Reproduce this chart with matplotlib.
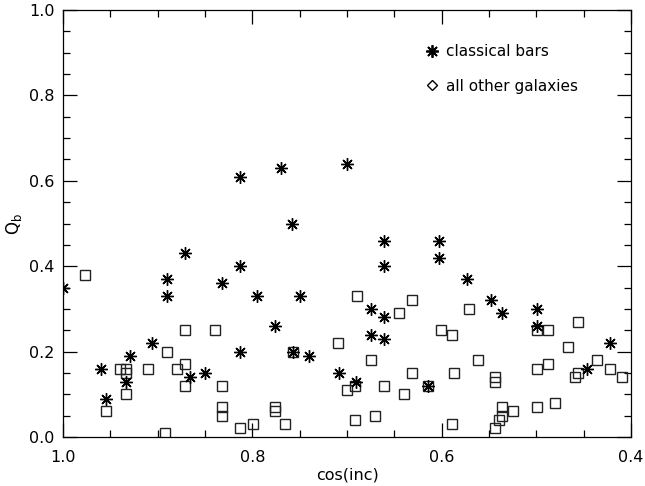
import matplotlib
matplotlib.use("Agg")
import matplotlib.pyplot as plt
from matplotlib.lines import Line2D
from matplotlib.ticker import MultipleLocator

plt.rcParams['font.family'] = ['DejaVu Sans']

# classical bars (asterisks)
bar_cosinc = [1.000, 0.960, 0.955, 0.933, 0.929, 0.906, 0.890, 0.890, 0.871, 0.866,
              0.850, 0.832, 0.813, 0.813, 0.813, 0.795, 0.776, 0.770, 0.758, 0.757,
              0.750, 0.740, 0.708, 0.700, 0.690, 0.675, 0.675, 0.661, 0.661, 0.661,
              0.661, 0.614, 0.603, 0.603, 0.573, 0.548, 0.536, 0.499, 0.499, 0.446,
              0.422]
bar_qb = [0.35, 0.16, 0.09, 0.13, 0.19, 0.22, 0.37, 0.33, 0.43, 0.14,
          0.15, 0.36, 0.40, 0.20, 0.61, 0.33, 0.26, 0.63, 0.50, 0.20,
          0.33, 0.19, 0.15, 0.64, 0.13, 0.30, 0.24, 0.46, 0.40, 0.28,
          0.23, 0.12, 0.46, 0.42, 0.37, 0.32, 0.29, 0.30, 0.26, 0.16,
          0.22]

# all other galaxies (squares)
oth_cosinc = [0.977, 0.955, 0.940, 0.933, 0.933, 0.933, 0.910, 0.890, 0.892, 0.880,
              0.871, 0.871, 0.871, 0.839, 0.832, 0.832, 0.832, 0.813, 0.799, 0.776,
              0.776, 0.765, 0.757, 0.710, 0.700, 0.692, 0.692, 0.689, 0.675, 0.670,
              0.661, 0.645, 0.640, 0.631, 0.631, 0.614, 0.601, 0.589, 0.589, 0.587,
              0.571, 0.562, 0.544, 0.544, 0.544, 0.539, 0.536, 0.536, 0.525, 0.499,
              0.499, 0.499, 0.488, 0.488, 0.480, 0.467, 0.456, 0.459, 0.456, 0.436,
              0.422, 0.409]
oth_qb = [0.38, 0.06, 0.16, 0.16, 0.15, 0.10, 0.16, 0.20, 0.01, 0.16,
          0.25, 0.17, 0.12, 0.25, 0.12, 0.07, 0.05, 0.02, 0.03, 0.07,
          0.06, 0.03, 0.20, 0.22, 0.11, 0.12, 0.04, 0.33, 0.18, 0.05,
          0.12, 0.29, 0.10, 0.32, 0.15, 0.12, 0.25, 0.24, 0.03, 0.15,
          0.30, 0.18, 0.14, 0.13, 0.02, 0.04, 0.05, 0.07, 0.06, 0.25,
          0.16, 0.07, 0.25, 0.17, 0.08, 0.21, 0.27, 0.14, 0.15, 0.18,
          0.16, 0.14]

legend_labels = ["classical bars", "all other galaxies"]
x_label = "cos(inc)"
y_label = r"Q$_\mathrm{b}$"

ast = (8, 2, 0)

fig = plt.figure(figsize=(6.45, 4.86), dpi=100)
ax = fig.add_axes([0.0977, 0.1008, 0.8806, 0.8786])

ax.plot(oth_cosinc, oth_qb, ls='none', marker='s', markersize=6.5,
        markerfacecolor='none', markeredgecolor='#222222', markeredgewidth=1.0)
ax.plot(bar_cosinc, bar_qb, ls='none', marker=ast, markersize=9,
        color='black', markeredgewidth=1.0)

ax.set_xlim(1.0, 0.4)
ax.set_ylim(0.0, 1.0)
ax.xaxis.set_major_locator(MultipleLocator(0.2))
ax.xaxis.set_minor_locator(MultipleLocator(0.05))
ax.yaxis.set_major_locator(MultipleLocator(0.2))
ax.yaxis.set_minor_locator(MultipleLocator(0.05))
ax.xaxis.set_major_formatter(plt.FuncFormatter(lambda v, p: f"{v:.1f}"))
ax.yaxis.set_major_formatter(plt.FuncFormatter(lambda v, p: f"{v:.1f}"))

ax.tick_params(which='both', direction='in', top=True, right=True,
               labelsize=11.5, width=0.9)
ax.tick_params(which='major', length=10)
ax.tick_params(which='minor', length=5)
ax.tick_params(axis='x', which='major', pad=9)
ax.tick_params(axis='y', which='major', pad=6)
for s in ax.spines.values():
    s.set_linewidth(0.9)

ax.set_xlabel(x_label, fontsize=11.5, labelpad=2)
ax.set_ylabel(y_label, fontsize=12, labelpad=4)

handles = [
    Line2D([], [], ls='none', marker=ast, markersize=9, color='black', markeredgewidth=1.3),
    Line2D([], [], ls='none', marker='D', markersize=5, markerfacecolor='none',
           markeredgecolor='black', markeredgewidth=1.0),
]
ax.legend(handles, legend_labels, loc='upper left', bbox_to_anchor=(0.628, 0.935),
          frameon=False, fontsize=11, handlelength=0.8, handletextpad=0.5,
          labelspacing=1.3, borderaxespad=0)

fig.savefig("out.png", dpi=100)
